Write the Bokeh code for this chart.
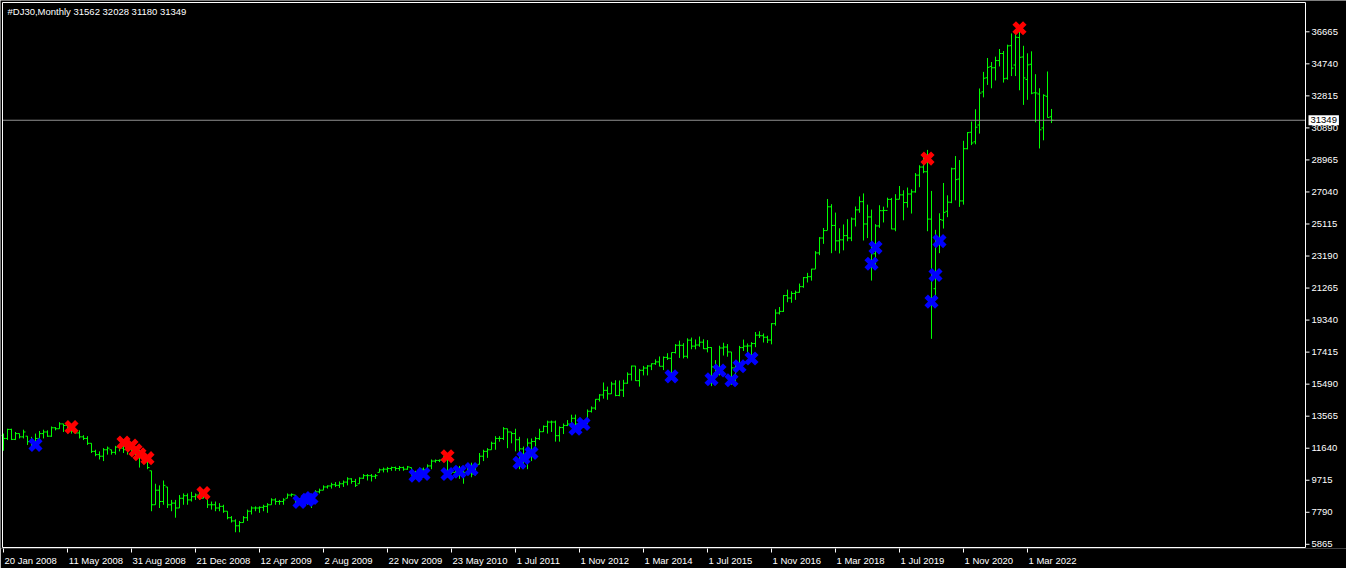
from bokeh.plotting import figure
from bokeh.models import Range1d, LinearAxis, FixedTicker, Label, ColumnDataSource
from bokeh.core.properties import value
from bokeh.embed import file_html
from bokeh.resources import INLINE

# ---------------- data ----------------
bar_open = [
    12400, 12227, 12771, 12169, 12519, 12324, 12363, 12033, 11935, 12227,
    12519, 12616, 12363, 12869, 12810, 13102, 13005, 12713, 12674, 12558,
    12324, 12227, 11935, 11449, 11255, 11158, 11547, 11547, 11391, 11702,
    11644, 11550, 11586, 11547, 11255, 11158, 10963, 10283, 8242, 9116,
    8436, 9311, 8242, 8339, 8047, 8631, 8786, 8533, 8728, 8825,
    8631, 8631, 8242, 8242, 8047, 8145, 7853, 7464, 7270, 6978,
    7172, 7464, 7853, 8047, 8047, 8086, 8145, 8242, 8533, 8436,
    8436, 8631, 8825, 8825, 8436, 8533, 8339, 8631, 8728, 9019,
    9117, 9311, 9370, 9447, 9408, 9505, 9603, 9797, 9642, 9505,
    9836, 9992, 9992, 9953, 10186, 10341, 10380, 10419, 10477, 10419,
    10477, 10380, 10477, 10088, 10088, 10380, 10341, 10575, 10866, 10905,
    10925, 11061, 10186, 10186, 10186, 10380, 10186, 10477, 10088, 10672,
    11158, 11449, 11547, 11935, 12227, 12227, 12810, 12616, 12519, 12150,
    11600, 10900, 11950, 12046, 12218, 12633, 12952, 13212, 13214, 12393,
    12880, 13009, 13091, 13437, 13096, 13025, 13104, 13861, 14054, 14579,
    14840, 15116, 14910, 15500, 14810, 15130, 15546, 16086, 16577, 15699,
    16322, 16458, 16581, 16717, 16827, 16563, 17098, 17043, 17391, 17828,
    17823, 17165, 18133, 17776, 17841, 18011, 17620, 17690, 16528, 16285,
    17664, 17720, 17425, 16466, 16517, 17685, 17774, 17787, 17930, 18432,
    18401, 18308, 18142, 19124, 19763, 19864, 20812, 20663, 20941, 21009,
    21350, 21891, 21948, 22405, 23377, 24272, 24719, 26149, 25029, 24103,
    24163, 24416, 24271, 25415, 25965, 26458, 25116, 25538, 23327, 24999,
    25916, 25929, 26593, 24815, 26600, 26864, 26403, 26917, 27046, 28051,
    28538, 28256, 25409, 21227, 24120, 25342, 25879, 26419, 28439, 27816,
    26502, 29638, 30627, 30054, 31065, 33054, 33904, 34584, 34507, 34935,
    35361, 33874, 35833, 34669, 36321, 35152, 33795, 34714, 33003, 32927,
    30889, 32787, 31562,
]
bar_high = [
    12519, 12810, 12810, 12616, 12519, 12752, 12363, 12324, 12519, 12674,
    12752, 12713, 12946, 12908, 13199, 13102, 13199, 13005, 12752, 12713,
    12421, 12363, 11935, 11547, 11449, 11644, 11741, 11547, 11780, 11838,
    11935, 11838, 11935, 11644, 11547, 11352, 11158, 10283, 9505, 9408,
    9699, 9311, 8533, 8533, 8825, 8922, 8922, 9019, 8922, 9019,
    9019, 8631, 8436, 8436, 8339, 8242, 7853, 7561, 7367, 7270,
    7561, 7950, 8145, 8145, 8145, 8242, 8339, 8631, 8631, 8533,
    8631, 8922, 8922, 8825, 8631, 8533, 8728, 8825, 9116, 9214,
    9408, 9408, 9564, 9603, 9642, 9700, 9894, 9836, 9797, 9894,
    10088, 10088, 10088, 10088, 10419, 10477, 10516, 10536, 10536, 10575,
    10536, 10575, 10477, 10283, 10477, 10477, 10672, 10963, 10963, 10963,
    11158, 11352, 10283, 10380, 10575, 10575, 10575, 10769, 10672, 11352,
    11547, 11644, 12033, 12363, 12363, 12908, 12810, 12616, 12810, 12324,
    11741, 12227, 12227, 12324, 12810, 13005, 13296, 13300, 13300, 12950,
    13123, 13331, 13653, 13662, 13290, 13296, 13969, 14150, 14585, 14888,
    15591, 15341, 15634, 15727, 15710, 15750, 16200, 16602, 16589, 16407,
    16588, 16631, 16736, 16978, 17152, 17154, 17350, 17395, 17895, 18103,
    17951, 18244, 18289, 18175, 18351, 18188, 18137, 17716, 16933, 17799,
    17977, 17899, 17425, 16795, 17790, 18168, 17935, 18017, 18623, 18668,
    18534, 18399, 19153, 19988, 20125, 20851, 21169, 21071, 21113, 21535,
    21930, 22179, 22420, 23485, 24328, 24876, 26617, 26306, 25800, 24858,
    25087, 25402, 25508, 26167, 26770, 26952, 26278, 25980, 25107, 26242,
    26156, 26696, 26680, 26907, 27398, 27140, 27306, 27200, 28175, 28645,
    29374, 29568, 27102, 24764, 25758, 27580, 26838, 28502, 29199, 28958,
    30116, 30637, 31272, 32009, 33259, 34256, 35091, 34850, 35171, 35631,
    35510, 35892, 36565, 36680, 36952, 35824, 35372, 35492, 34118, 33272,
    32910, 34281, 32028,
]
bar_low = [
    11488, 12130, 12130, 12130, 12227, 12227, 11838, 11741, 11741, 12227,
    12227, 12324, 12324, 12713, 12810, 12616, 12519, 12519, 12519, 12227,
    12130, 11838, 11352, 11158, 10963, 10866, 11255, 11255, 11255, 11449,
    11352, 11255, 11158, 10963, 10477, 10769, 10380, 7853, 8242, 8047,
    8242, 8047, 7853, 7464, 8047, 8242, 8242, 8436, 8533, 8533,
    8631, 8047, 7950, 7853, 7853, 7756, 7367, 7172, 6589, 6589,
    7172, 7270, 7658, 7853, 7756, 7853, 7756, 8242, 8242, 8242,
    8242, 8631, 8728, 8242, 8242, 8145, 8242, 8047, 8728, 8922,
    9117, 9214, 9214, 9311, 9253, 9311, 9408, 9505, 9311, 9505,
    9797, 9700, 9642, 9797, 10186, 10186, 10186, 10283, 10283, 10283,
    10283, 10341, 9992, 9797, 9836, 9894, 10186, 10380, 10769, 10808,
    10866, 9894, 10088, 9894, 9797, 9505, 10088, 9894, 9992, 10672,
    10866, 11061, 11547, 11547, 12033, 12130, 11644, 11935, 11450, 10380,
    10477, 10380, 10866, 11741, 12130, 12616, 12519, 12616, 12035, 12035,
    12491, 12968, 13034, 12980, 12471, 12883, 13104, 13784, 13937, 14444,
    14619, 14551, 14900, 14760, 14760, 14720, 15515, 15703, 15690, 15340,
    16016, 16015, 16333, 16650, 16563, 16334, 16945, 15855, 17331, 17067,
    17038, 17037, 17585, 17583, 17736, 17596, 17400, 15370, 15942, 16013,
    17210, 17138, 15451, 15504, 16511, 17484, 17331, 17063, 17713, 18263,
    17992, 17959, 17884, 19003, 19678, 19831, 20413, 20379, 20554, 20986,
    21280, 21600, 21709, 22416, 23242, 23921, 24741, 23360, 23509, 23345,
    23532, 24077, 24084, 24965, 25790, 24122, 24268, 21713, 22638, 24884,
    25208, 26100, 24800, 24680, 26600, 25339, 26100, 25743, 27000, 27325,
    28170, 24681, 18213, 20735, 23361, 24843, 25523, 26365, 26537, 26143,
    26277, 29601, 29856, 29905, 30547, 32725, 33473, 33271, 33741, 34582,
    33613, 33785, 34006, 34006, 33150, 32273, 32578, 32913, 31228, 29653,
    30144, 31509, 31180,
]
bar_close = [
    12227, 12771, 12169, 12519, 12324, 12616, 12033, 11935, 12227, 12519,
    12616, 12363, 12869, 12810, 13102, 13005, 12713, 12674, 12558, 12324,
    12227, 11935, 11449, 11255, 11158, 11547, 11644, 11391, 11702, 11644,
    11550, 11586, 11547, 11255, 11158, 10963, 10477, 8242, 9116, 8436,
    9408, 8242, 8339, 8047, 8631, 8786, 8533, 8728, 8825, 8631,
    8825, 8242, 8242, 8047, 8145, 7853, 7464, 7270, 6978, 7172,
    7464, 7853, 8047, 8047, 8086, 8145, 8242, 8533, 8436, 8436,
    8533, 8825, 8864, 8436, 8533, 8339, 8631, 8728, 9019, 9116,
    9311, 9370, 9447, 9408, 9505, 9603, 9797, 9642, 9408, 9836,
    9992, 9992, 9953, 9992, 10341, 10380, 10419, 10477, 10419, 10477,
    10380, 10516, 10088, 10088, 10380, 10341, 10575, 10866, 10905, 10925,
    11061, 10186, 10186, 10186, 10380, 10186, 10477, 10088, 10575, 11158,
    11449, 11547, 11935, 12227, 12227, 12810, 12616, 12519, 12150, 11600,
    10900, 11950, 12046, 12218, 12633, 12952, 13212, 13214, 12393, 12880,
    13009, 13091, 13437, 13096, 13025, 13104, 13861, 14054, 14579, 14840,
    15116, 14910, 15500, 14810, 15130, 15546, 16086, 16577, 15699, 16322,
    16458, 16581, 16717, 16827, 16563, 17098, 17043, 17391, 17828, 17823,
    17165, 18133, 17776, 17841, 18011, 17620, 17690, 16528, 16285, 17664,
    17720, 17425, 16466, 16517, 17685, 17774, 17787, 17930, 18432, 18401,
    18308, 18142, 19124, 19763, 19864, 20812, 20663, 20941, 21009, 21350,
    21891, 21948, 22405, 23377, 24272, 24719, 26149, 25029, 24103, 24163,
    24416, 24271, 25415, 25965, 26458, 25116, 25538, 23327, 24999, 25916,
    25929, 26593, 24815, 26600, 26864, 26403, 26917, 27046, 28051, 28538,
    28256, 25409, 21917, 24345, 25383, 25813, 26428, 28430, 27782, 26502,
    29638, 30606, 29983, 30932, 32981, 33875, 34529, 34503, 34935, 35361,
    33844, 35820, 34484, 36338, 35132, 33893, 34678, 32977, 32990, 30775,
    32845, 31510, 31349,
]

sell_bar = [17, 30, 32, 33, 34, 36, 50, 111, 231, 254]
sell_price = [12907, 11974, 11799, 11508, 11274, 11041, 8941, 11157, 29047, 36881]
buy_bar = [8, 74, 76, 77, 103, 105, 111, 114, 117, 129, 130, 132, 143, 145,
           167, 177, 179, 182, 184, 187, 217, 218, 232, 233, 234]
buy_price = [11840, 8416, 8533, 8650, 9991, 10090, 10090, 10224, 10382, 10766,
             11058, 11350, 12808, 13100, 15958, 15783, 16307, 15724, 16565,
             17031, 22724, 23698, 20449, 22047, 24089]

x_tick_bars = [0, 16, 32, 48, 64, 80, 96, 112, 128, 144, 160, 176, 192, 208, 224, 240, 256]
x_tick_labels = ["20 Jan 2008", "11 May 2008", "31 Aug 2008", "21 Dec 2008",
                 "12 Apr 2009", "2 Aug 2009", "22 Nov 2009", "23 May 2010",
                 "1 Jul 2011", "1 Nov 2012", "1 Mar 2014", "1 Jul 2015",
                 "1 Nov 2016", "1 Mar 2018", "1 Jul 2019", "1 Nov 2020", "1 Mar 2022"]
y_ticks = [5865, 7790, 9715, 11640, 13565, 15490, 17415, 19340, 21265, 23190,
           25115, 27040, 28965, 30890, 32815, 34740, 36665]
chart_price_bottom, chart_price_top = 5673, 38426
current_price = 31349
header_text = "#DJ30,Monthly  31562 32028 31180 31349"

# ---------------- layout (pixel geometry of the chart box) ----------------
FONT = "Liberation Sans"
FS = "9.5px"
W, H = 1346, 568
BB = 20                       # bottom panel for the time labels
frame_h = H - BB
px_per_bar = 4.0
xs = -0.75
xe = xs + W / px_per_bar
x_left = xs + 2.0 / px_per_bar          # left border of chart box
x_axis = xs + 1305.0 / px_per_bar       # price-scale line
top_px, bot_px = 2.0, frame_h - 1.0
ppx = (chart_price_top - chart_price_bottom) / (bot_px - top_px)
ys = chart_price_bottom - (frame_h - bot_px) * ppx
ye = chart_price_top + top_px * ppx

p = figure(width=W, height=H, output_backend="svg", toolbar_location=None,
           x_range=Range1d(xs, xe), y_range=Range1d(ys, ye),
           x_axis_location=None, y_axis_location=None,
           background_fill_color="black", border_fill_color="black",
           min_border_left=0, min_border_right=0, min_border_top=0, min_border_bottom=BB,
           outline_line_color=None)
p.grid.visible = False

idx = list(range(len(bar_close)))
tick_half = 0.5
src = ColumnDataSource(dict(
    i=idx, o=bar_open, h=bar_high, l=bar_low, c=bar_close,
    il=[k - tick_half for k in idx], ir=[k + tick_half for k in idx],
))
GREEN = "#00FF00"
p.segment(x0="i", y0="l", x1="i", y1="h", source=src, line_color=GREEN, line_width=1)
p.segment(x0="il", y0="o", x1="i", y1="o", source=src, line_color=GREEN, line_width=1)
p.segment(x0="i", y0="c", x1="ir", y1="c", source=src, line_color=GREEN, line_width=1)

# current price line
p.segment(x0=[x_left], y0=[current_price], x1=[x_axis], y1=[current_price],
          line_color="#909090", line_width=1)

# signal crosses
p.scatter(x=sell_bar, y=sell_price, marker="x", size=15, line_color="#FF0000", line_width=5)
p.scatter(x=buy_bar, y=buy_price, marker="x", size=15, line_color="#0000FF", line_width=5)

# chart box border
p.multi_line(xs=[[x_left, x_left, x_axis, x_axis, x_left]],
             ys=[[chart_price_bottom, chart_price_top, chart_price_top, chart_price_bottom, chart_price_bottom]],
             line_color="white", line_width=1)

# price scale: tick marks and labels to the right of the box
tick_len = 4 / px_per_bar
p.segment(x0=[x_axis] * len(y_ticks), y0=y_ticks, x1=[x_axis + tick_len] * len(y_ticks), y1=y_ticks,
          line_color="white", line_width=1)
p.text(x=[x_axis] * len(y_ticks), y=y_ticks, text=[str(v) for v in y_ticks],
       x_offset=6, text_align="left", text_baseline="middle", text_color="white",
       text_font=value(FONT), text_font_size=value(FS))

# current price tag
p.add_layout(Label(x=x_axis, y=current_price, x_offset=3, text=str(current_price),
                   text_baseline="middle", text_align="left", text_color="black",
                   background_fill_color="white", padding=2,
                   text_font=FONT, text_font_size=FS))

# header
p.add_layout(Label(x=x_left, y=chart_price_top, x_offset=5, y_offset=-3, text=header_text,
                   text_baseline="top", text_align="left", text_color="white",
                   text_font=FONT, text_font_size=FS))

# bottom time axis: tick marks, then left-aligned labels
xax_ticks = LinearAxis(ticker=FixedTicker(ticks=x_tick_bars),
                       axis_line_color=None, major_tick_line_color="white",
                       major_tick_out=4, major_tick_in=0, minor_tick_out=0, minor_tick_in=0,
                       major_label_standoff=0, major_label_text_font_size="1px",
                       major_label_text_color=None)
p.add_layout(xax_ticks, "below")

char_em = {" ": 0.278, "J": 0.5, "M": 0.833, "A": 0.667, "D": 0.722, "N": 0.722,
           "y": 0.5, "c": 0.5, "v": 0.5, "r": 0.333, "l": 0.222}
fs_px = 9.5
def text_width(s):
    return sum(char_em.get(ch, 0.556) for ch in s) * fs_px

lab_pos = [round(t + (text_width(s) / 2 + 1) / px_per_bar, 3) for t, s in zip(x_tick_bars, x_tick_labels)]
xax_labels = LinearAxis(ticker=FixedTicker(ticks=lab_pos),
                        major_label_overrides={pos: s for pos, s in zip(lab_pos, x_tick_labels)},
                        axis_line_color=None, major_tick_line_color=None,
                        major_tick_out=0, major_tick_in=0, minor_tick_out=0, minor_tick_in=0,
                        major_label_standoff=2, major_label_text_color="white",
                        major_label_text_font=FONT, major_label_text_font_size=FS)
p.add_layout(xax_labels, "below")

open("out.html", "w").write(file_html(p, INLINE))
